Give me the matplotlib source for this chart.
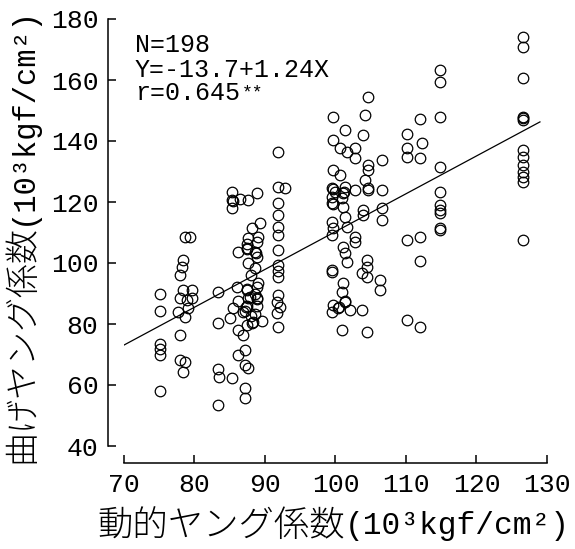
import matplotlib
matplotlib.use('Agg')
import matplotlib.pyplot as plt
import numpy as np

# dynamic Young's modulus (x) vs bending Young's modulus (y), 10^3 kgf/cm2
x_dyn = [
    # ~75
    75.1, 75.1, 75.1, 75.1, 75.1, 75.1,
    # ~78-80
    78.7, 79.4, 78.4, 78.2, 77.9, 78.4, 79.6, 77.9, 79.6, 79.0, 77.7, 79.1, 78.7, 77.9, 77.9, 78.7, 78.4,
    # ~83-85
    83.3, 83.3, 83.3, 83.5, 83.3, 85.3,
    # ~85-90 top
    85.3, 85.3, 85.3, 86.5, 87.6, 88.8,
    # ~85-90 middle
    88.2, 89.3, 87.6, 88.9, 86.2, 87.4, 88.6, 88.9, 87.6, 88.6, 86.0, 87.4, 88.9, 87.6, 88.9, 86.2,
    85.5, 87.4, 88.9, 85.0, 87.2, 88.6, 89.6, 87.4, 88.2, 86.2, 86.9, 87.2, 86.2, 87.2, 87.6, 87.2, 87.2,
    89.0, 88.6, 87.9, 89.0, 87.4, 88.0, 86.9, 88.0,
    # ~92
    91.8, 91.8, 92.8, 91.8, 91.8, 91.8, 91.8, 91.8, 91.8, 91.8, 91.8, 91.8, 91.7, 92.1, 91.7, 91.8,
    # ~100-103
    99.6, 101.3, 99.6, 100.6, 101.6, 102.8, 102.8, 99.6, 100.6, 99.5, 99.9, 101.3, 99.5, 101.1, 102.8,
    100.9, 101.1, 99.5, 101.3, 99.5, 99.6, 101.6, 99.5, 101.1, 101.3, 101.6, 99.5, 99.5, 101.1, 100.9,
    101.3, 99.6, 100.4, 99.5, 102.1, 103.8, 100.9, 104.5, 102.8, 102.8,
    # ~104
    104.6, 104.2, 103.9, 104.6, 104.6, 104.2, 104.6, 103.9, 103.9, 104.5, 103.8, 104.5, 104.5,
    # ~106
    106.6, 106.6, 106.6, 106.6, 106.3, 106.3,
    # ~110-112
    112.0, 110.1, 112.2, 110.1, 110.1, 112.0, 110.1, 112.0, 112.0, 110.1, 112.0,
    # ~115
    114.8, 114.8, 114.8, 114.8, 114.8, 114.8, 114.8, 114.8, 114.8, 114.8,
    # ~127
    126.6, 126.6, 126.6, 126.6, 126.6, 126.6, 126.6, 126.6, 126.6, 126.6, 126.6, 126.6,
    # overlapped
    87.5, 88.7, 87.5, 88.8, 87.3, 88.3, 85.4, 99.6, 101.2, 99.6, 101.3, 100.5, 104.6, 126.6,
]
y_bend = [
    89.8, 84.3, 73.4, 71.8, 69.8, 58.0,
    108.5, 108.5, 101.0, 98.7, 96.0, 91.1, 91.1, 88.5, 88.5, 87.9, 84.0, 85.2, 82.3, 76.4, 68.2, 67.5, 64.3,
    90.5, 80.2, 65.2, 62.6, 53.4, 62.3,
    123.3, 120.7, 118.0, 121.0, 120.7, 123.0,
    111.5, 113.1, 108.2, 106.9, 103.6, 104.9, 103.6, 102.0, 100.0, 98.4, 92.1, 91.1, 92.1, 88.5, 88.2, 87.5,
    85.2, 85.9, 85.9, 81.9, 84.3, 83.3, 81.0, 79.7, 80.3, 78.0, 76.4, 71.5, 69.8, 66.6, 65.6, 59.0, 55.7,
    93.4, 90.0, 89.0, 108.5, 106.2, 96.0, 84.0, 82.5,
    136.4, 124.9, 124.6, 119.7, 115.7, 111.8, 109.2, 104.3, 99.3, 97.4, 95.4, 89.5, 87.2, 85.6, 83.6, 79.0,
    147.9, 143.6, 140.3, 137.7, 136.4, 137.7, 134.4, 130.5, 128.9, 124.6, 123.3, 124.9, 121.6, 123.0, 123.9,
    121.3, 118.4, 119.7, 115.1, 113.4, 111.5, 111.8, 109.2, 105.2, 103.3, 100.3, 97.7, 97.0, 93.4, 90.5,
    87.2, 86.2, 85.2, 83.9, 84.6, 84.6, 78.0, 77.4, 108.5, 106.9,
    154.4, 148.5, 142.0, 132.1, 130.5, 127.2, 124.6, 117.4, 115.7, 98.7, 96.7, 95.4, 101.0,
    133.8, 124.0, 118.0, 114.1, 94.4, 91.1,
    147.2, 142.3, 139.5, 137.7, 134.6, 134.4, 107.5, 108.5, 100.6, 81.3, 79.0,
    163.3, 159.3, 147.9, 131.5, 123.3, 119.0, 117.4, 116.4, 111.5, 110.8,
    174.1, 170.8, 160.7, 147.9, 147.0, 137.0, 134.8, 132.1, 129.8, 128.2, 126.6, 107.5,
    104.5, 103.2, 91.5, 88.6, 85.5, 80.8, 120.3, 124.2, 123.4, 119.2, 87.6, 85.6, 124.0, 147.5,
]

# regression line given on the chart
intercept = -13.7
slope = 1.24
fit_range = [70, 129]

x_ticks = [70, 80, 90, 100, 110, 120, 130]
y_ticks = [40, 60, 80, 100, 120, 140, 160, 180]

xlabel_jp, xlabel_unit = '動的ヤング係数', '(10³kgf/cm²)'
ylabel_jp, ylabel_unit = '曲げヤング係数', '(10³kgf/cm²)'

mono = ['Liberation Mono', 'Noto Sans CJK JP']
plt.rcParams['font.family'] = mono
plt.rcParams['font.weight'] = 'light'

fig = plt.figure(figsize=(5.75, 5.49), dpi=100)
ax = fig.add_axes([124/575, 103/549, 423/575, 427/549])

ax.plot(x_dyn, y_bend, 'o', mfc='none', mec='black', ms=7.6, mew=0.9, clip_on=False)

fx = np.array(fit_range)
ax.plot(fx, intercept + slope*fx, '-', color='black', lw=0.9)

ax.set_xlim(70, 130)
ax.set_ylim(40, 180)
ax.set_xticks(x_ticks)
ax.set_yticks(y_ticks)

for s in ['top', 'right']:
    ax.spines[s].set_visible(False)
ax.spines['left'].set_position(('outward', 16*0.72))
ax.spines['bottom'].set_position(('outward', 17*0.72))
ax.spines['left'].set_linewidth(1.1)
ax.spines['bottom'].set_linewidth(1.1)

ax.tick_params(axis='both', direction='in', length=6, width=1.1, labelsize=19, colors='black')
ax.tick_params(axis='y', pad=7)
ax.tick_params(axis='x', pad=7)

ax.text(0.026, 0.923, 'N=198', transform=ax.transAxes, fontsize=18, va='baseline')
ax.text(0.026, 0.864, 'Y=-13.7+1.24X', transform=ax.transAxes, fontsize=18, va='baseline')
rt = ax.text(0.026, 0.810, 'r=0.645', transform=ax.transAxes, fontsize=18, va='baseline')
ax.annotate('**', xy=(1.0, 0.85), xycoords=rt, fontsize=13, va='top', ha='left',
            xytext=(1, 0), textcoords='offset points')

# axis titles: japanese part and unit part drawn side by side
xj = fig.text(97/575, 1 - 526/549, xlabel_jp, ha='left', va='center', fontsize=25.5)
ax.annotate(xlabel_unit, xy=(1.0, 0.5), xycoords=xj, ha='left', va='center', fontsize=22.5)

yj = fig.text(23/575, 1 - 463/549, ylabel_jp, ha='center', va='bottom', rotation=90, fontsize=24.5)
ax.annotate(ylabel_unit, xy=(0.5, 1.0), xycoords=yj, ha='center', va='bottom',
            rotation=90, fontsize=22)

fig.savefig('out.png', dpi=100)
